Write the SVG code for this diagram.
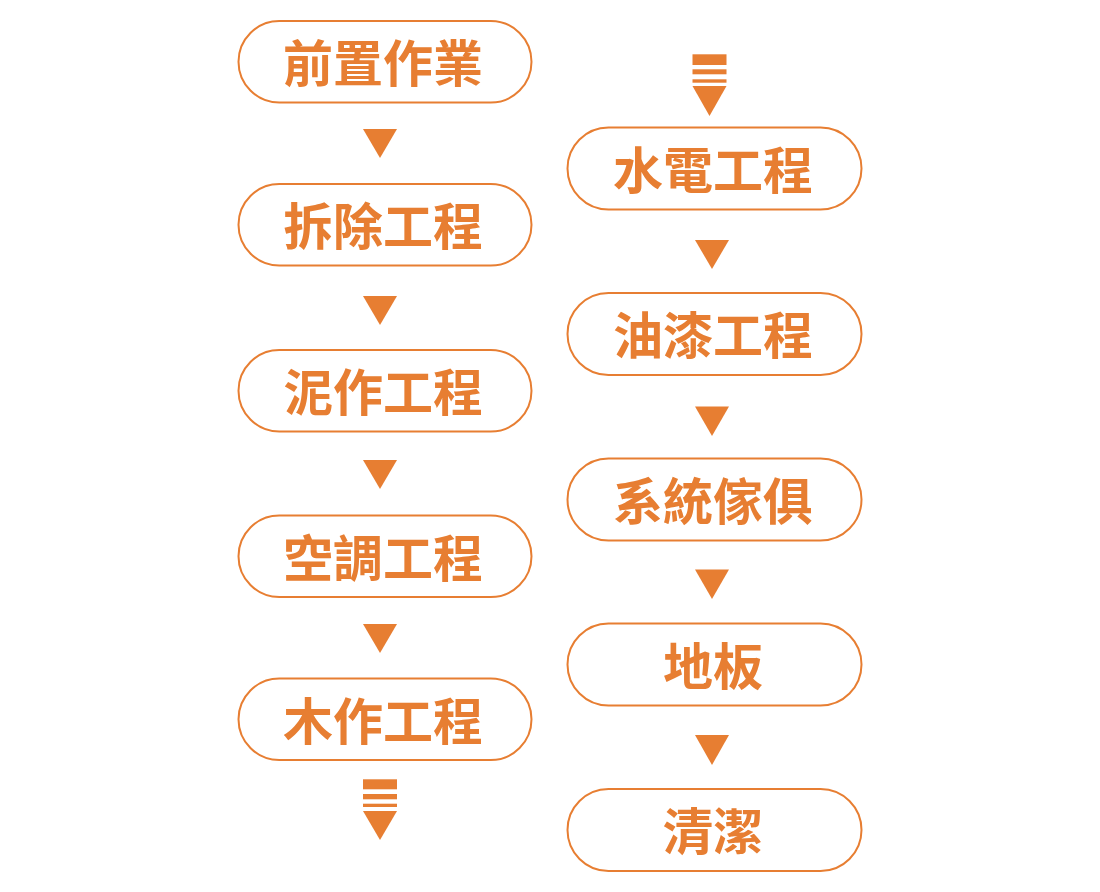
<svg xmlns="http://www.w3.org/2000/svg" width="1100" height="892" viewBox="0 0 1100 892">
<style>
.box{fill:#fff;stroke:#E77E32;stroke-width:2}
.lbl{font-family:"Noto Sans CJK TC","Noto Sans CJK SC",sans-serif;font-weight:700;font-size:50px;fill:#E77E32;text-anchor:middle}
.arr{fill:#E77E32}
</style>
<rect width="1100" height="892" fill="#fff"/>
<g id="connectors" class="arr">
<polygon points="363,129 397,129 380,158"/>
<polygon points="363,296 397,296 380,325"/>
<polygon points="363,460 397,460 380,489"/>
<polygon points="363,624 397,624 380,653"/>
<g id="continue-left">
<rect x="363" y="779.3" width="34" height="10"/>
<rect x="363" y="794" width="34" height="5.3"/>
<rect x="363" y="803.7" width="34" height="3.3"/>
<polygon points="363,811 397,811 380,840"/>
</g>
<g id="continue-right">
<rect x="692.5" y="54.3" width="34" height="10.7"/>
<rect x="692.5" y="69.3" width="34" height="5"/>
<rect x="692.5" y="79.3" width="34" height="3.4"/>
<polygon points="692.5,86 726.5,86 709.5,116"/>
</g>
<polygon points="695,240 729,240 712,269"/>
<polygon points="695,406.5 729,406.5 712,436"/>
<polygon points="695,569.5 729,569.5 712,599"/>
<polygon points="695,735 729,735 712,765"/>
</g>
<g id="n1"><rect class="box" x="238.5" y="21" width="293" height="81.5" rx="40.75"/><text class="lbl" x="383" y="82">前置作業</text></g>
<g id="n2"><rect class="box" x="238.5" y="184" width="293" height="81.5" rx="40.75"/><text class="lbl" x="383" y="245">拆除工程</text></g>
<g id="n3"><rect class="box" x="238.5" y="350" width="293" height="81.5" rx="40.75"/><text class="lbl" x="383" y="411">泥作工程</text></g>
<g id="n4"><rect class="box" x="238.5" y="515.5" width="293" height="81.5" rx="40.75"/><text class="lbl" x="383" y="576.5">空調工程</text></g>
<g id="n5"><rect class="box" x="238.5" y="678.5" width="293" height="81.5" rx="40.75"/><text class="lbl" x="383" y="739.5">木作工程</text></g>
<g id="n6"><rect class="box" x="567.5" y="127.5" width="294" height="82" rx="41"/><text class="lbl" x="713" y="188.5">水電工程</text></g>
<g id="n7"><rect class="box" x="567.5" y="293" width="294" height="82" rx="41"/><text class="lbl" x="713" y="354">油漆工程</text></g>
<g id="n8"><rect class="box" x="567.5" y="458.5" width="294" height="82" rx="41"/><text class="lbl" x="713" y="519.5">系統傢俱</text></g>
<g id="n9"><rect class="box" x="567.5" y="623.5" width="294" height="82" rx="41"/><text class="lbl" x="713" y="684.5">地板</text></g>
<g id="n10"><rect class="box" x="567.5" y="789" width="294" height="82" rx="41"/><text class="lbl" x="713" y="850">清潔</text></g>
</svg>
